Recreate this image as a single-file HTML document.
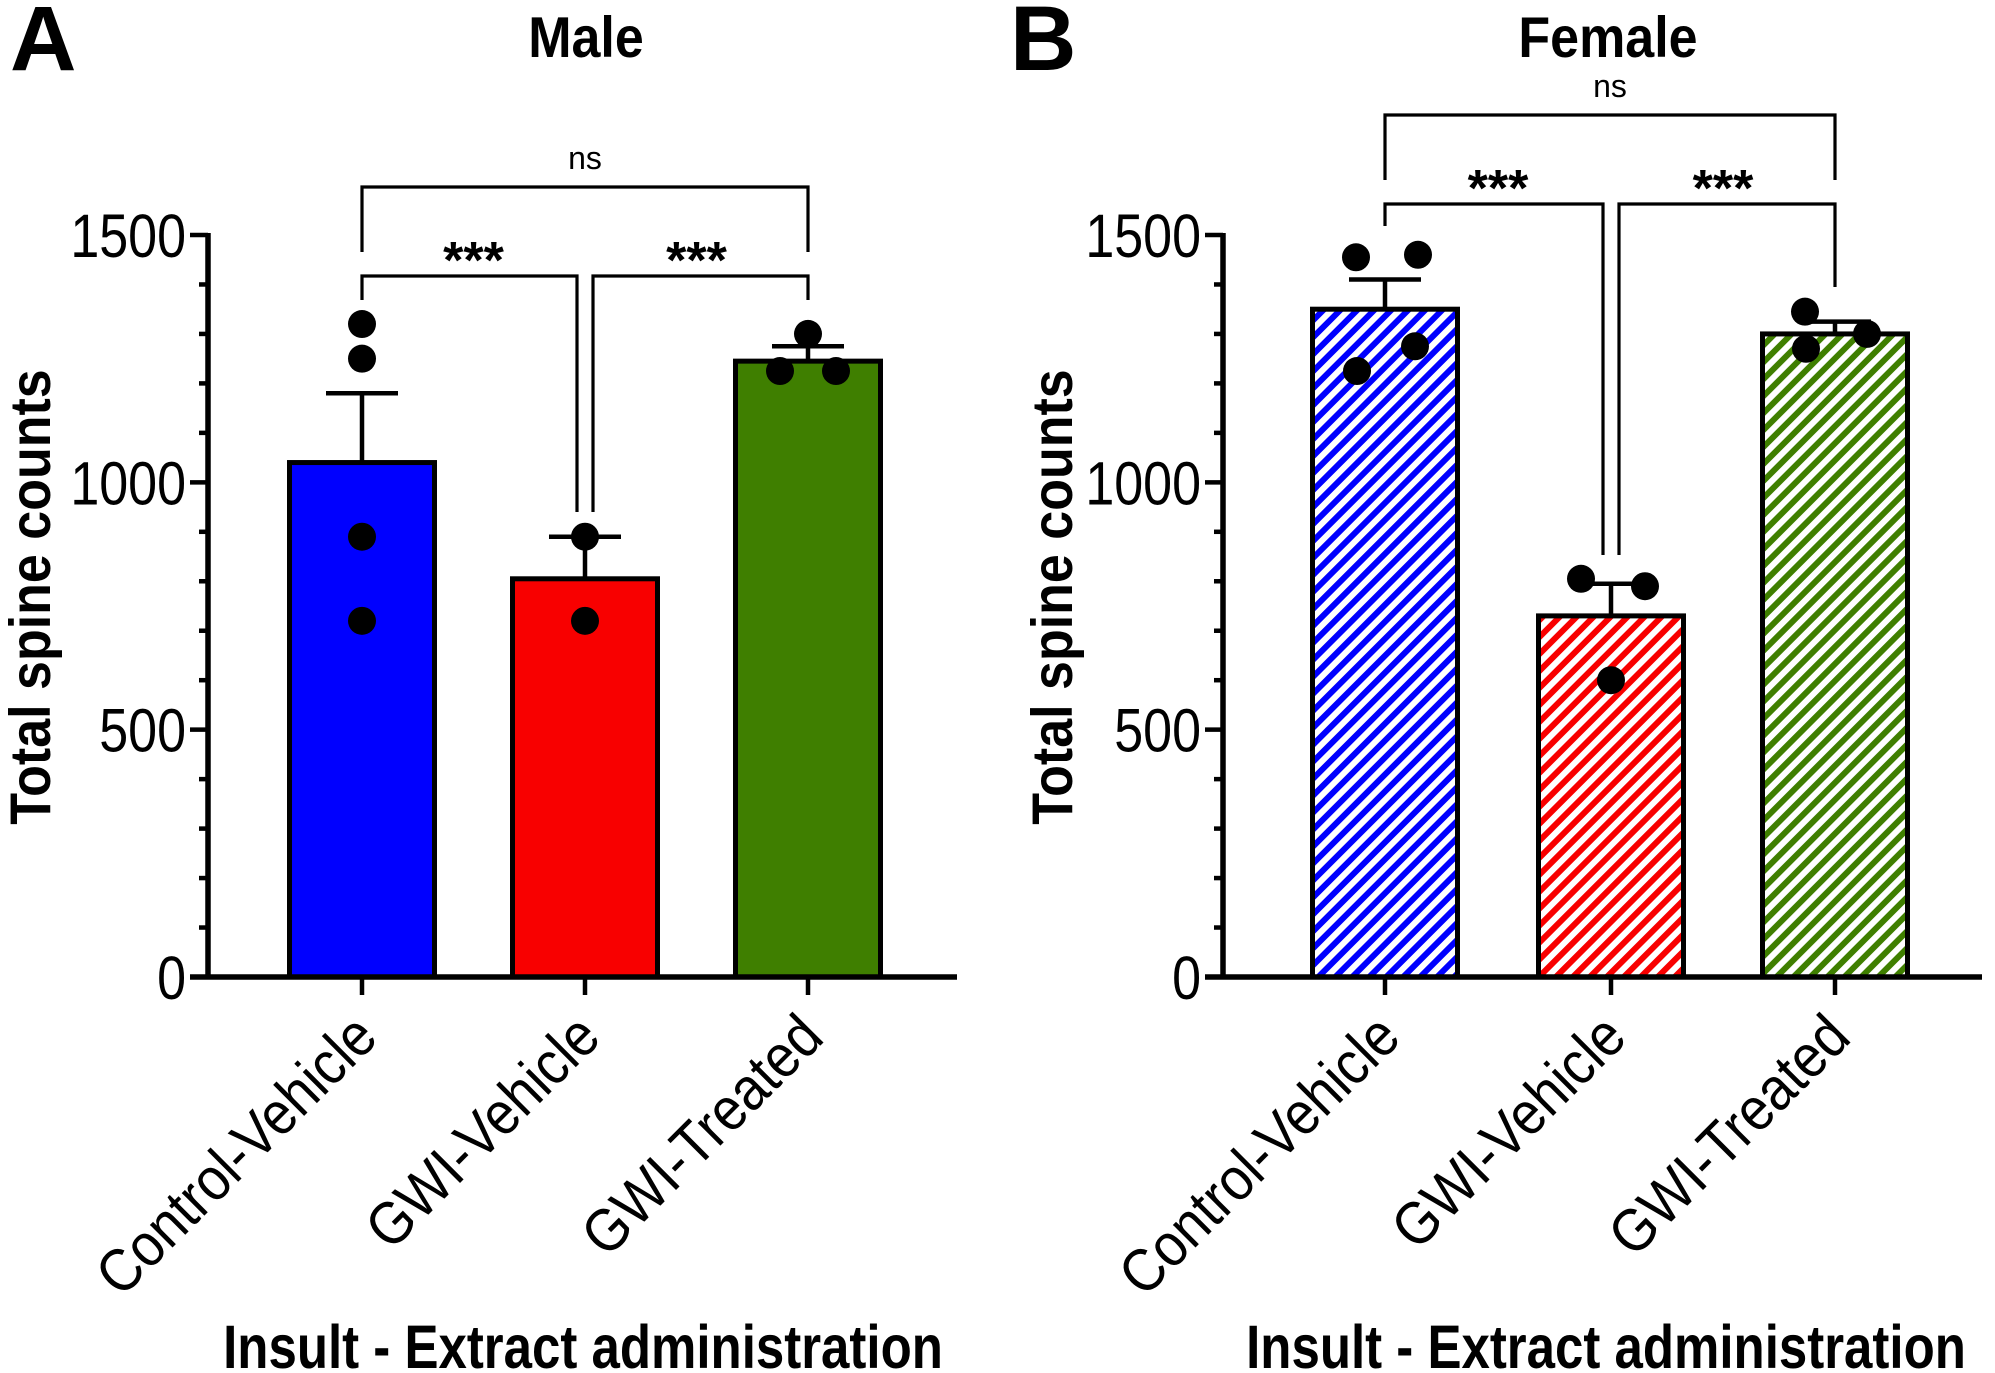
<!DOCTYPE html>
<html><head><meta charset="utf-8">
<style>
html,body{margin:0;padding:0;background:#fff;}
svg{display:block;font-family:"Liberation Sans",Arial,sans-serif;}
</style></head>
<body>
<svg id="fig" width="1995" height="1373" viewBox="0 0 1995 1373" xmlns="http://www.w3.org/2000/svg">
<defs>
<pattern id="hatch-blue" patternUnits="userSpaceOnUse" width="12" height="12" patternTransform="rotate(45)"><rect width="12" height="12" fill="#fff"/><rect width="6" height="12" fill="#0000ff"/></pattern>
<pattern id="hatch-red" patternUnits="userSpaceOnUse" width="12" height="12" patternTransform="rotate(45)"><rect width="12" height="12" fill="#fff"/><rect width="6" height="12" fill="#f80000"/></pattern>
<pattern id="hatch-green" patternUnits="userSpaceOnUse" width="12" height="12" patternTransform="rotate(45)"><rect width="12" height="12" fill="#fff"/><rect width="6" height="12" fill="#3f7f00"/></pattern>
</defs>
<g id="root"></g>
</svg>
<script>
const categories = ["Control-Vehicle", "GWI-Vehicle", "GWI-Treated"];
const maleMeans = [1040, 805, 1245];
const maleErrTop = [1180, 890, 1275];
const femaleMeans = [1350, 730, 1300];
const femaleErrTop = [1410, 795, 1325];
const malePoints = [[1320, 1250, 890, 720], [890, 720], [1300, 1225, 1225]];
const maleJitter = [[0, 0, 0, 0], [0, 0], [0, -28, 28]];
const femalePoints = [[1455, 1460, 1275, 1225], [805, 790, 600], [1345, 1300, 1270]];
const femaleJitter = [[-29, 33, 30, -28], [-30, 34, 0], [-30, 32, -29]];
const yTicks = [0, 500, 1000, 1500];
const yMinorStep = 100;
const yMax = 1500;

const NS = "http://www.w3.org/2000/svg";
const root = document.getElementById("root");
function mk(tag, attrs, parent, text) {
  const e = document.createElementNS(NS, tag);
  for (const k in attrs) e.setAttribute(k, attrs[k]);
  if (text !== undefined) e.textContent = text;
  (parent || root).appendChild(e);
  return e;
}

function panel(cfg) {
  const g = mk("g", {});
  
  
  const y0 = 977, y1 = 235;
  const yScale = v => y0 - (v / yMax) * (y0 - y1);
  const ax = cfg.axisX;
  const xScale = i => cfg.centers[i];

  const L = mk("text", {x: cfg.letterX, y: 70, "font-size": 92, "font-weight": "bold"}, g, cfg.letter);
  
  
  const T = mk("text", {x: 0, y: 0, "font-size": 52, "font-weight": "bold", "text-anchor": "middle", transform: `translate(${cfg.titleX},57) scale(1,1.1)`}, g, cfg.title);
  
  

  for (let i = 0; i < categories.length; i++) {
    const cx = xScale(i), w = 145;
    const b = mk("rect", {x: cx - w / 2, y: yScale(cfg.means[i]), width: w, height: y0 - yScale(cfg.means[i]), fill: cfg.fills[i], stroke: "#000", "stroke-width": 5}, g);
    
    
    const e = mk("path", {d: `M${cx},${yScale(cfg.means[i])}V${yScale(cfg.err[i])}M${cx - 36},${yScale(cfg.err[i])}H${cx + 36}`, stroke: "#000", "stroke-width": 4.5, fill: "none"}, g);
    
    
    cfg.points[i].forEach((v, j) => {
      const c = mk("circle", {cx: cx + cfg.jitter[i][j], cy: yScale(v), r: 14, fill: "#000"}, g);
      
      
    });
  }

  const yA = mk("line", {x1: ax, y1: y1 - 2, x2: ax, y2: y0 + 2, stroke: "#000", "stroke-width": 5.5}, g);
  
  
  const xA = mk("line", {x1: ax - 18, y1: y0, x2: cfg.axisEnd, y2: y0, stroke: "#000", "stroke-width": 5.5}, g);
  
  
  for (let v = 0; v <= yMax; v += yMinorStep) {
    const major = yTicks.includes(v);
    const t = mk("line", {x1: ax - (major ? 18 : 9), y1: yScale(v), x2: ax, y2: yScale(v), stroke: "#000", "stroke-width": 4.5}, g);
    
    
  }
  yTicks.forEach(v => {
    const t = mk("text", {x: 0, y: 0, "font-size": 52, "text-anchor": "end", transform: `translate(${ax - 22},${yScale(v) + 22}) scale(1,1.18)`}, g, String(v));
    
    
  });
  const yt = mk("text", {x: 0, y: 0, "font-size": 52, "font-weight": "bold", "text-anchor": "middle", transform: `translate(${cfg.yTitleX},597) rotate(-90) scale(1,1.1)`}, g, "Total spine counts");
  
  

  categories.forEach((c, i) => {
    const cx = xScale(i);
    const tk = mk("line", {x1: cx, y1: y0, x2: cx, y2: y0 + 18, stroke: "#000", "stroke-width": 4.5}, g);
    
    
    const lb = mk("text", {x: 0, y: 0, "font-size": 54, "text-anchor": "end", transform: `translate(${cx + 18},${1040}) rotate(-45) scale(1,1.12)`}, g, c);
    
    
  });
  const xt = mk("text", {x: 0, y: 0, "font-size": 51, "font-weight": "bold", "text-anchor": "middle", transform: `translate(${cfg.xTitleX},1368) scale(1,1.2)`}, g, "Insult - Extract administration");
  
  

  const c0 = xScale(0), c1 = xScale(1), c2 = xScale(2), s = cfg.sig;
  const bk = (d, nm) => {
    const p = mk("path", {d, stroke: "#000", "stroke-width": 3.2, fill: "none"}, g);
    
    
  };
  bk(`M${c0},${s.nsLeg}V${s.nsY}H${c2}V${s.nsLeg}`, 'ns-bracket');
  bk(`M${c0},${s.sLegL}V${s.sY}H${c1 - 8}V${s.mid}`, 'sig-bracket-left');
  bk(`M${c1 + 8},${s.mid}V${s.sY}H${c2}V${s.sLegR}`, 'sig-bracket-right');
  const n = mk("text", {x: (c0 + c2) / 2, y: s.nsY - 18, "font-size": 32, "text-anchor": "middle"}, g, "ns");
  
  
  const a1 = mk("text", {x: (c0 + c1) / 2, y: s.sY + 2, "font-size": 52, "font-weight": "bold", "text-anchor": "middle"}, g, "***");
  
  
  const a2 = mk("text", {x: (c1 + c2) / 2, y: s.sY + 2, "font-size": 52, "font-weight": "bold", "text-anchor": "middle"}, g, "***");
  
  
}

panel({name: "panel-male", letter: "A", letterX: 10, title: "Male", titleX: 586, axisX: 208, axisEnd: 957,
  centers: [362, 585, 808], means: maleMeans, err: maleErrTop, points: malePoints, jitter: maleJitter,
  fills: ["#0000ff", "#f80000", "#3f7f00"], yTitleX: 50, xTitleX: 583,
  sig: {nsY: 187, nsLeg: 252, sY: 276, sLegL: 300, sLegR: 300, mid: 512}});
panel({name: "panel-female", letter: "B", letterX: 1010, title: "Female", titleX: 1608, axisX: 1223, axisEnd: 1982,
  centers: [1385, 1611, 1835], means: femaleMeans, err: femaleErrTop, points: femalePoints, jitter: femaleJitter,
  fills: ["url(#hatch-blue)", "url(#hatch-red)", "url(#hatch-green)"], yTitleX: 1072, xTitleX: 1606,
  sig: {nsY: 115, nsLeg: 180, sY: 204, sLegL: 226, sLegR: 287, mid: 555}});
</script>
</body></html>
